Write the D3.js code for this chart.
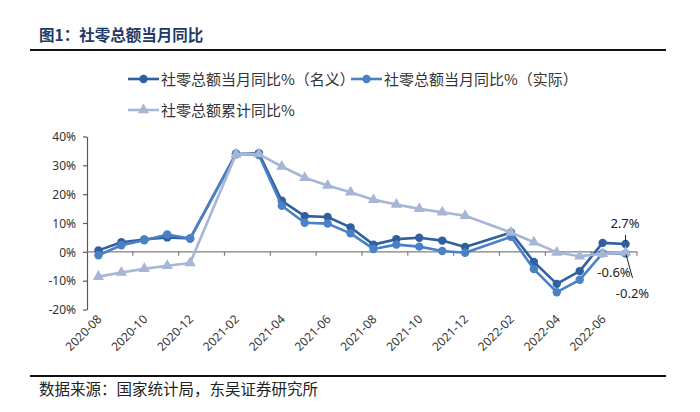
<!DOCTYPE html>
<html><head><meta charset="utf-8">
<script src="https://cdn.jsdelivr.net/npm/d3@7"></script>
<style>
html,body{margin:0;padding:0;background:#fff;}
svg{display:block;}
</style></head>
<body>
<svg id="chart" width="700" height="412"></svg>
<script>
const categories = ["2020-08","2020-09","2020-10","2020-11","2020-12","2021-01","2021-02","2021-03","2021-04","2021-05","2021-06","2021-07","2021-08","2021-09","2021-10","2021-11","2021-12","2022-01","2022-02","2022-03","2022-04","2022-05","2022-06","2022-07"];
const nominal = [0.5,3.3,4.3,5.0,4.6,null,33.8,34.2,17.7,12.4,12.1,8.5,2.5,4.4,4.9,3.9,1.7,null,6.7,-3.5,-11.1,-6.7,3.1,2.7];
const real = [-1.2,2.3,4.0,6.0,4.6,null,34.1,33.6,16.0,10.1,9.8,6.4,1.0,2.5,1.8,0.3,-0.3,null,5.2,-6.0,-14.0,-9.7,-0.5,-0.6];
const cumulative = [-8.6,-7.2,-5.9,-4.8,-3.9,null,33.8,33.9,29.6,25.7,23.0,20.7,18.1,16.4,14.9,13.7,12.5,null,6.7,3.3,-0.2,-1.5,-0.7,-0.2];
const yTicks = [-20,-10,0,10,20,30,40];
const xLabels = ["2020-08","2020-10","2020-12","2021-02","2021-04","2021-06","2021-08","2021-10","2021-12","2022-02","2022-04","2022-06"];
const seriesNames = ["社零总额当月同比%（名义）","社零总额当月同比%（实际）","社零总额累计同比%"];
const titleText = "图1：社零总额当月同比";
const sourceText = "数据来源：国家统计局，东吴证券研究所";

const colors = ["#30609f","#4a80c4","#a7b6d6"];
const svg = d3.select("#chart");
const cjk = "'Noto Sans CJK SC','Noto Sans',sans-serif";
const num = "'Noto Sans','Open Sans',sans-serif";

// title & rules
svg.append("text").attr("x",39).attr("y",40.5).text(titleText)
  .attr("font-family",cjk).attr("font-weight",700).attr("font-size",15.5).attr("fill","#1f3a66");
svg.append("line").attr("x1",30).attr("x2",666).attr("y1",50).attr("y2",50).attr("stroke","#111").attr("stroke-width",2);
svg.append("line").attr("x1",30).attr("x2",666).attr("y1",376).attr("y2",376).attr("stroke","#111").attr("stroke-width",2);
svg.append("text").attr("x",39).attr("y",395).text(sourceText)
  .attr("font-family",cjk).attr("font-size",15.5).attr("fill","#222");

const x = d3.scaleBand().domain(categories).range([87,637]);
const y = d3.scaleLinear().domain([-20,40]).range([309.5,136.5]);
const cx = c => x(c) + x.bandwidth()/2;

// y axis
const yAxis = d3.axisLeft(y).tickValues(yTicks).tickFormat(d=>d+"%").tickSize(4).tickSizeOuter(0);
const gy = svg.append("g").attr("transform","translate(87,0)").call(yAxis);
gy.select(".domain").attr("stroke","#595959").attr("stroke-width",1.2);
gy.selectAll(".tick line").attr("stroke","#595959").attr("stroke-width",1.2);
gy.selectAll(".tick text").attr("font-family",num).attr("font-size",12).attr("fill","#333").attr("x",-11).attr("dy","0.35em");

// zero line with ticks
svg.append("line").attr("x1",87).attr("x2",637).attr("y1",y(0)).attr("y2",y(0)).attr("stroke","#7f7f7f").attr("stroke-width",1.3);
const tickIdx = d3.range(2,25,2);
svg.selectAll(".xt").data(tickIdx).enter().append("line")
  .attr("x1",i=>87+i*x.step()).attr("x2",i=>87+i*x.step())
  .attr("y1",y(0)).attr("y2",y(0)+4).attr("stroke","#7f7f7f").attr("stroke-width",1.2);

// x labels
svg.selectAll(".xl").data(xLabels).enter().append("text")
  .attr("transform",d=>`translate(${cx(d)+4},${320}) rotate(-45)`)
  .attr("text-anchor","end").attr("font-family",num).attr("font-size",12).attr("fill","#333").text(d=>d);

// series
const allSeries = [nominal, real, cumulative];
const line = d3.line().x(d=>cx(d.c)).y(d=>y(d.v));
allSeries.forEach((vals,si)=>{
  const pts = categories.map((c,i)=>({c, v: vals[i]})).filter(d=>d.v!=null);
  svg.append("path").datum(pts).attr("d",line).attr("fill","none")
    .attr("stroke",colors[si]).attr("stroke-width",2.6).attr("stroke-linejoin","round");
  if (si<2) {
    svg.selectAll(".m"+si).data(pts).enter().append("circle")
      .attr("cx",d=>cx(d.c)).attr("cy",d=>y(d.v)).attr("r",4.2).attr("fill",colors[si]);
  } else {
    const tri = d3.symbol().type(d3.symbolTriangle).size(55);
    svg.selectAll(".m"+si).data(pts).enter().append("path")
      .attr("d",tri).attr("transform",d=>`translate(${cx(d.c)},${y(d.v)})`).attr("fill",colors[si]);
  }
});

// data labels for last point
const last = categories[categories.length-1];
const lx = cx(last);
svg.append("line").attr("x1",lx).attr("x2",lx).attr("y1",235).attr("y2",y(nominal[23])-3).attr("stroke","#222").attr("stroke-width",1);
svg.append("line").attr("x1",lx+0.5).attr("x2",lx+7).attr("y1",y(cumulative[23])+2).attr("y2",278).attr("stroke","#222").attr("stroke-width",1);
const lab = [[nominal[23], 625, 227.5],[real[23], 614, 276.5],[cumulative[23], 632.5, 298]];
lab.forEach(([v,px,py])=>{
  svg.append("text").attr("x",px).attr("y",py).attr("text-anchor","middle")
    .attr("font-family",num).attr("font-size",13).attr("fill","#222").text(v.toFixed(1)+"%");
});

// legend
const legend = [[128,79,0],[351,79,1],[128,110,2]];
legend.forEach(([lx0,ly,si])=>{
  svg.append("line").attr("x1",lx0).attr("x2",lx0+31).attr("y1",ly).attr("y2",ly).attr("stroke",colors[si]).attr("stroke-width",2.6);
  if (si<2) svg.append("circle").attr("cx",lx0+15.5).attr("cy",ly).attr("r",4.2).attr("fill",colors[si]);
  else svg.append("path").attr("d",d3.symbol().type(d3.symbolTriangle).size(55)).attr("transform",`translate(${lx0+15.5},${ly})`).attr("fill",colors[si]);
  svg.append("text").attr("x",lx0+33).attr("y",ly+5.5).text(seriesNames[si])
    .attr("font-family",cjk).attr("font-size",15).attr("fill","#333");
});
</script>
</body></html>
